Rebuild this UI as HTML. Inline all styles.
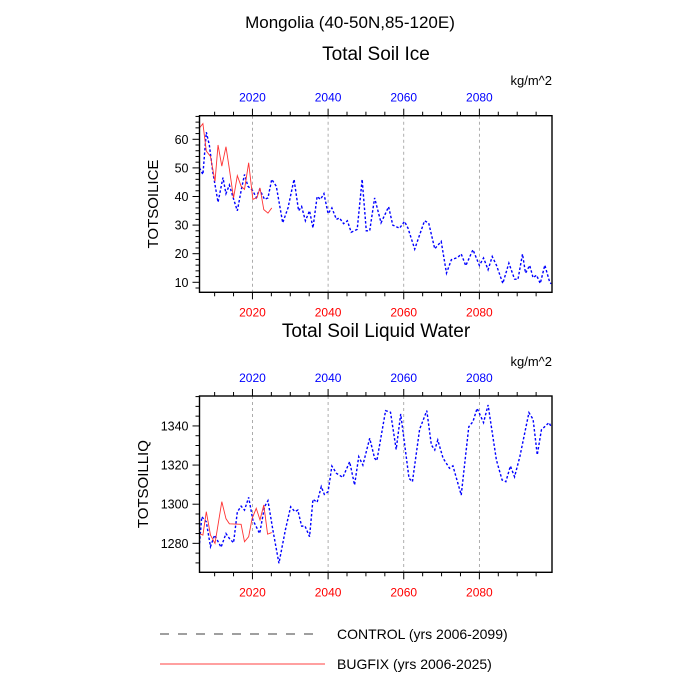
<!DOCTYPE html>
<html><head><meta charset="utf-8"><style>
body{margin:0;background:#fff;}
svg{display:block;font-family:"Liberation Sans",sans-serif;}
</style></head><body>
<svg id="chart" width="700" height="700" viewBox="0 0 700 700">
<text x="350" y="28" font-size="17" text-anchor="middle">Mongolia (40-50N,85-120E)</text>
<text x="376" y="60" font-size="19" text-anchor="middle">Total Soil Ice</text>
<text x="552" y="85" font-size="13" text-anchor="end">kg/m^2</text>
<text x="376" y="337" font-size="19" text-anchor="middle">Total Soil Liquid Water</text>
<text x="552" y="366" font-size="13" text-anchor="end">kg/m^2</text>
<g id="p1"></g>
<g id="p2"></g>
<g>
<line x1="160" y1="634" x2="322" y2="634" stroke="#000" stroke-width="0.8" stroke-dasharray="9,9"/>
<text x="337" y="639" font-size="14">CONTROL (yrs 2006-2099)</text>
<line x1="160" y1="664" x2="325" y2="664" stroke="#f00" stroke-width="0.8"/>
<text x="337" y="669" font-size="14">BUGFIX (yrs 2006-2025)</text>
</g>
</svg>
<script>
const iceCtlYears=[2006,2006.9,2007.8,2008.6,2009.5,2010.9,2012.2,2013,2013.9,2014.8,2016,2017,2017.9,2018.8,2020.1,2021,2021.9,2023.2,2024.1,2025.1,2026.3,2028,2029.4,2031,2032.2,2033,2034,2035.1,2036,2037.1,2038,2038.9,2040,2041,2042.2,2043,2044.1,2045.1,2046.1,2047.7,2049,2050.1,2051,2052.3,2054,2056,2057.1,2058.9,2060.2,2061.1,2062.9,2064.2,2065.5,2066.6,2068.2,2069.9,2071.3,2072.6,2074.3,2075.2,2076.4,2078.3,2080,2081.1,2082.3,2083.4,2084.5,2086.2,2087.8,2089.3,2090.2,2091.4,2092.2,2093.3,2094.2,2095.1,2096.1,2097.3,2098.6,2099];
const iceCtlValues=[50,47.7,62.5,58,48.7,38,46.6,41,44,40,35,42,47.7,43.6,42,39.6,42.5,39,39.5,46,43.6,30.8,36,46,35,36.5,31.5,35,29,40,39,41,34,36,32,32.5,30.5,31.5,27.5,28.5,46,28,28,39.5,30.8,36.4,30,28.9,31.3,29,21.6,26.6,31.5,30.7,21.7,24.3,13.2,17.9,18.7,19.9,15.8,21.4,15.9,18.5,14.4,19,16,9.6,16.7,11.1,11,19.9,13.2,15.9,11.6,12.5,9.6,16,10,9.5];
const iceFixYears=[2006,2006.9,2007.8,2008.9,2010.1,2010.9,2011.9,2013,2013.9,2015,2016,2017,2017.9,2019,2020.1,2021.2,2022,2023,2024.1,2025.1];
const iceFixValues=[64,65.5,55.9,54,45.3,58,50.6,57.4,49.6,39.5,47.3,43.6,42.5,51.8,39,39.6,43,35.4,34.2,36];
const liqCtlYears=[2006,2006.6,2007.8,2008.9,2010,2011.7,2013,2013.9,2015,2016,2017,2017.9,2019,2020.1,2021.9,2023.2,2024.1,2025.4,2027,2028.7,2030.1,2031.2,2032,2033,2033.9,2035.1,2036,2037.1,2038.2,2039,2040,2041,2042.2,2043.9,2045.7,2047,2048.1,2049.2,2051,2052.3,2052.9,2055.2,2056.5,2058,2059.2,2061.4,2062.3,2064.2,2066.1,2067.3,2068.2,2069,2070.4,2072.1,2073,2075.2,2077.2,2078.3,2079.4,2081.1,2082.3,2084.5,2086,2087,2088.2,2089.3,2090.7,2093.1,2094.2,2095.3,2096.4,2098.4,2099];
const liqCtlValues=[1280,1293.6,1291,1278.3,1284.2,1278,1285,1282.5,1280.3,1296,1299,1297,1303.5,1292,1285,1298.7,1301.8,1286.8,1269.8,1286.8,1298.7,1296.2,1297,1288.8,1288.8,1283.4,1302.5,1301,1309,1305,1306.4,1319.5,1315.8,1313.7,1321.7,1309.8,1324.3,1320,1333.7,1323.5,1322.3,1347.8,1347,1328,1346.1,1313.2,1311.5,1338.3,1347.8,1330.3,1327.7,1332.8,1323.5,1318.4,1319.6,1304.7,1339.6,1342.2,1349,1341.7,1350.7,1322.6,1312.4,1311.5,1319.5,1314,1324.3,1346.8,1343.4,1325.2,1338,1341.7,1339.5];
const liqFixYears=[2006,2006.9,2007.8,2008.9,2010.1,2011.9,2013,2013.9,2017,2017.9,2019,2019.9,2021,2022,2023,2024,2025.1];
const liqFixValues=[1285,1284.2,1296.2,1284.2,1280,1301.3,1292.6,1290,1289.7,1280.8,1283.4,1292.6,1297.9,1292,1299.6,1284.7,1285.5];
const xTickYears=[2020,2040,2060,2080];
const iceYTicks=[10,20,30,40,50,60];
const liqYTicks=[1280,1300,1320,1340];

const NS='http://www.w3.org/2000/svg';
function mk(parent,tag,attrs){const e=document.createElementNS(NS,tag);for(const k in attrs)e.setAttribute(k,attrs[k]);parent.appendChild(e);return e;}
const X0=199.5,X1=552;
function xs(y){return X0+(y-2006)*(X1-X0)/(2099.2-2006);}

function panel(g,top,bot,ymin,ymax,yt,minorStep,ctlY,ctlV,fixY,fixV,ylabel,labX,name){
  const ys=v=>bot-(v-ymin)*(bot-top)/(ymax-ymin);
  // grid lines
  xTickYears.forEach(t=>{
    const l=mk(g,'line',{x1:xs(t),x2:xs(t),y1:top,y2:bot,stroke:'#999','stroke-width':0.8,'stroke-dasharray':'3,3'});
    
    
  });
  // series
  const c=mk(g,'polyline',{points:ctlY.map((y,i)=>xs(y)+','+ys(ctlV[i])).join(' '),fill:'none',stroke:'#00f','stroke-width':1.4,'stroke-dasharray':'2.5,2'});
  
  
  const f=mk(g,'polyline',{points:fixY.map((y,i)=>xs(y)+','+ys(fixV[i])).join(' '),fill:'none',stroke:'#f33','stroke-width':0.9});
  
  
  // frame
  const r=mk(g,'rect',{x:X0,y:top,width:X1-X0,height:bot-top,fill:'none',stroke:'#000','stroke-width':1.4});
  
  
  // x ticks (every 5 years)
  for(let t=2010;t<=2095;t+=5){
    const major=t%20===0;const len=major?7:4;
    mk(g,'line',{x1:xs(t),x2:xs(t),y1:top,y2:top-len,stroke:'#000','stroke-width':1});
    mk(g,'line',{x1:xs(t),x2:xs(t),y1:bot,y2:bot+len,stroke:'#000','stroke-width':1});
  }
  xTickYears.forEach(t=>{
    const a=mk(g,'text',{x:xs(t),y:top-14,'font-size':12,fill:'#00f','text-anchor':'middle'});a.textContent=t;
    
    
    const b=mk(g,'text',{x:xs(t),y:bot+24,'font-size':12,fill:'#f00','text-anchor':'middle'});b.textContent=t;
    
    
  });
  // y ticks
  for(let v=Math.ceil(ymin/minorStep)*minorStep;v<=ymax;v+=minorStep){
    const major=yt.includes(v);
    mk(g,'line',{x1:X0,x2:X0-(major?7:4),y1:ys(v),y2:ys(v),stroke:'#000','stroke-width':1});
  }
  yt.forEach(v=>{
    const t=mk(g,'text',{x:X0-11,y:ys(v)+4.5,'font-size':12.5,'text-anchor':'end'});t.textContent=v;
    
    
  });
  const yl=mk(g,'text',{x:labX,y:(top+bot)/2,'font-size':15,'text-anchor':'middle',transform:`rotate(-90 ${labX} ${(top+bot)/2})`});
  yl.textContent=ylabel;
  
  
}
panel(document.getElementById('p1'),115.7,292.3,6.5,68.25,iceYTicks,2,iceCtlYears,iceCtlValues,iceFixYears,iceFixValues,'TOTSOILICE',158,'ice');
panel(document.getElementById('p2'),396,572.3,1265.2,1355.3,liqYTicks,5,liqCtlYears,liqCtlValues,liqFixYears,liqFixValues,'TOTSOILLIQ',148,'liquid');
</script>
</body></html>
